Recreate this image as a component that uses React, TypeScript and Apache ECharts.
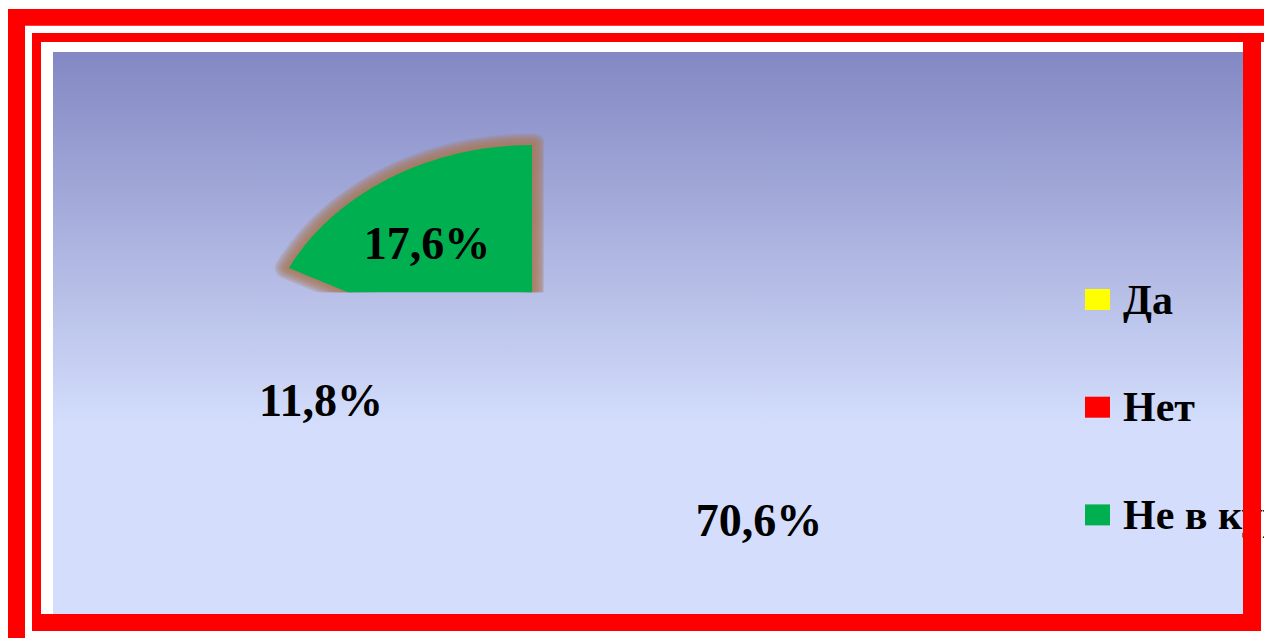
import React, { useEffect, useRef } from "react";
import * as echarts from "echarts";

// ---- data ----
const CATEGORIES = ["Да", "Нет", "Не в курсе"];
const VALUES = [11.8, 70.6, 17.6];
const COLORS = ["#FFFF00", "#FF0000", "#00B050"];
// only the last slice is visible in the picture
const SLICE_OPACITY = [0, 0, 1];

// ---- layout (not data) ----
const W = 1264;
const H = 638;
const PIE_CENTER = [532, 368];
const PIE_RADIUS = 272;
const PIE_TILT = 0.82;
const CLIP = { x: 200, y: 80, width: 343.5, height: 212.3 };
const LABEL_POSITIONS = [
  [321, 400],
  [759, 520],
  [427, 243],
];
const FONT = "'Times New Roman', 'Liberation Serif', serif";
const GLOW = "rgb(170,118,82)";
const GLOW_WIDTHS = [28, 24, 20, 16, 12, 8, 4];

export default function App() {
  const ref = useRef<HTMLDivElement>(null);

  useEffect(() => {
    if (!ref.current) return;
    const chart = echarts.init(ref.current, null, { renderer: "svg", width: W, height: H });
    const total = VALUES.reduce((a, b) => a + b, 0);

    const frame = [
      // outer frame
      { x: 8, y: 9, width: 17, height: H - 9 },
      { x: 8, y: 9, width: W - 8, height: 16.7 },
      // inner frame
      { x: 32, y: 33, width: 9, height: 598 },
      { x: 32, y: 33, width: W - 32, height: 9 },
      { x: 1243, y: 33, width: 18, height: 598 },
      { x: 32, y: 614, width: 1229, height: 17 },
    ].map((s) => ({
      type: "rect",
      shape: s,
      style: { fill: "#FF0000" },
      z: 20,
      silent: true,
    }));

    const option: any = {
      animation: false,
      backgroundColor: "#FFFFFF",
      graphic: [
        {
          type: "rect",
          z: -5,
          silent: true,
          shape: { x: 53, y: 52, width: 1190, height: 562 },
          style: {
            fill: new echarts.graphic.LinearGradient(0, 0, 0, 1, [
              { offset: 0, color: "#8388C3" },
              { offset: 0.67, color: "#D4DEFC" },
              { offset: 1, color: "#D4DEFC" },
            ]),
          },
        },
        ...frame,
      ],
      legend: {
        orient: "vertical",
        left: 1080,
        top: 273.5,
        itemWidth: 25,
        itemHeight: 21,
        itemGap: 65.7,
        icon: "rect",
        selectedMode: false,
        textStyle: {
          fontFamily: FONT,
          fontWeight: "bold",
          fontSize: 42,
          lineHeight: 40,
          color: "#000000",
          padding: [0, 0, 0, 8],
        },
        data: CATEGORIES.map((name, i) => ({
          name,
          itemStyle: { color: COLORS[i], opacity: 1, borderWidth: 0 },
        })),
      },
      series: [
        {
          type: "custom",
          coordinateSystem: "none",
          silent: true,
          z: 1,
          data: VALUES.map((v) => [v]),
          renderItem: (params: any, api: any) => {
            const i = params.dataIndex;
            const before = VALUES.slice(0, i).reduce((a, b) => a + b, 0);
            const start = -Math.PI / 2 + (before / total) * Math.PI * 2;
            const end = start + (api.value(0) / total) * Math.PI * 2;
            const shape = {
              cx: 0,
              cy: 0,
              r0: 0,
              r: PIE_RADIUS,
              startAngle: start,
              endAngle: end,
              clockwise: true,
            };
            const glow = GLOW_WIDTHS.map((w) => ({
              type: "sector",
              x: PIE_CENTER[0],
              y: PIE_CENTER[1],
              scaleY: PIE_TILT,
              shape,
              style: {
                fill: "none",
                stroke: GLOW,
                lineWidth: w,
                lineJoin: "round",
                opacity: SLICE_OPACITY[i] * 0.22,
              },
            }));
            return {
              type: "group",
              clipPath: { type: "rect", shape: CLIP },
              children: [
                ...glow,
                {
                  type: "sector",
                  x: PIE_CENTER[0],
                  y: PIE_CENTER[1],
                  scaleY: PIE_TILT,
                  shape,
                  style: {
                    fill: COLORS[i],
                    opacity: SLICE_OPACITY[i],
                  },
                },
              ],
            };
          },
        },
        {
          type: "pie",
          z: 3,
          silent: true,
          center: PIE_CENTER,
          radius: PIE_RADIUS,
          startAngle: 90,
          clockwise: true,
          data: CATEGORIES.map((name, i) => ({
            name,
            value: VALUES[i],
            itemStyle: { color: "transparent" },
          })),
          label: {
            show: true,
            position: "inside",
            fontFamily: FONT,
            fontWeight: "bold",
            fontSize: 46,
            color: "#000000",
            formatter: (p: any) => p.value.toFixed(1).replace(".", ",") + "%",
          },
          labelLine: { show: false },
          labelLayout: (p: any) => ({
            x: LABEL_POSITIONS[p.dataIndex][0],
            y: LABEL_POSITIONS[p.dataIndex][1],
            align: "center",
            verticalAlign: "middle",
          }),
        },
      ],
    };

    chart.setOption(option);
    return () => chart.dispose();
  }, []);

  return (
    <div
      style={{
        position: "fixed",
        left: 0,
        top: 0,
        width: W,
        height: H,
        overflow: "hidden",
        background: "#FFFFFF",
      }}
    >
      <div ref={ref} style={{ width: W, height: H }} />
    </div>
  );
}
